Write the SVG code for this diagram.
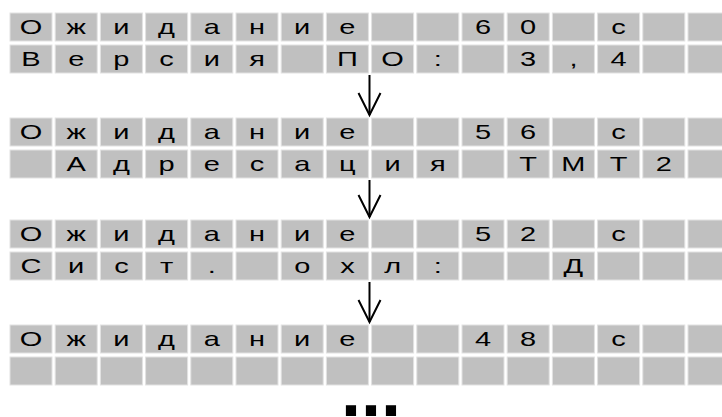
<svg xmlns="http://www.w3.org/2000/svg" xmlns:xlink="http://www.w3.org/1999/xlink" width="722" height="417" viewBox="0 0 722 417">
<style>
.cell{fill:#c0c0c0;stroke:#e2e2e2;stroke-width:1}
.t{font-family:"Liberation Sans",Arial,sans-serif;font-size:21px;fill:#000;text-anchor:middle}
.arr{stroke:#000;stroke-width:2;fill:none}
.dots{font-family:"Liberation Sans",Arial,sans-serif;font-size:72px;font-weight:bold;fill:#000;text-anchor:middle}
</style>
<defs>
<g id="row">
<rect class="cell" x="10" y="0" width="42" height="28"/>
<rect class="cell" x="55.2" y="0" width="42" height="28"/>
<rect class="cell" x="100.4" y="0" width="42" height="28"/>
<rect class="cell" x="145.6" y="0" width="42" height="28"/>
<rect class="cell" x="190.8" y="0" width="42" height="28"/>
<rect class="cell" x="236" y="0" width="42" height="28"/>
<rect class="cell" x="281.2" y="0" width="42" height="28"/>
<rect class="cell" x="326.4" y="0" width="42" height="28"/>
<rect class="cell" x="371.6" y="0" width="42" height="28"/>
<rect class="cell" x="416.8" y="0" width="42" height="28"/>
<rect class="cell" x="462" y="0" width="42" height="28"/>
<rect class="cell" x="507.2" y="0" width="42" height="28"/>
<rect class="cell" x="552.4" y="0" width="42" height="28"/>
<rect class="cell" x="597.6" y="0" width="42" height="28"/>
<rect class="cell" x="642.8" y="0" width="42" height="28"/>
<rect class="cell" x="688" y="0" width="42" height="28"/>
</g>
<marker id="ah" markerUnits="userSpaceOnUse" markerWidth="26" markerHeight="28" viewBox="0 0 26 28" refX="13" refY="25">
<path d="M2,3 L13,25 L24,3" fill="none" stroke="#000" stroke-width="2"/>
</marker>
</defs>

<g id="screen1">
<use xlink:href="#row" y="13"/>
<use xlink:href="#row" y="45"/>
<g transform="scale(1.38,1)">
<text class="t" x="22.46 55.22 87.97 120.72 153.48 186.23 218.99 251.74 350 382.75 448.26" y="34">Ожидание60с</text>
<text class="t" x="22.46 55.22 87.97 120.72 153.48 186.23 251.74 284.49 317.25 382.75 415.51 448.26" y="66">ВерсияПО:3,4</text>
</g>
</g>

<g id="screen2">
<use xlink:href="#row" y="118"/>
<use xlink:href="#row" y="150"/>
<g transform="scale(1.38,1)">
<text class="t" x="22.46 55.22 87.97 120.72 153.48 186.23 218.99 251.74 350 382.75 448.26" y="139">Ожидание56с</text>
<text class="t" x="55.22 87.97 120.72 153.48 186.23 218.99 251.74 284.49 317.25 382.75 415.51 448.26 481.01" y="171">АдресацияТМТ2</text>
</g>
</g>

<g id="screen3">
<use xlink:href="#row" y="220"/>
<use xlink:href="#row" y="252"/>
<g transform="scale(1.38,1)">
<text class="t" x="22.46 55.22 87.97 120.72 153.48 186.23 218.99 251.74 350 382.75 448.26" y="241">Ожидание52с</text>
<text class="t" x="22.46 55.22 87.97 120.72 153.48 218.99 251.74 284.49 317.25 415.51" y="273">Сист.охл:Д</text>
</g>
</g>

<g id="screen4">
<use xlink:href="#row" y="325"/>
<use xlink:href="#row" y="357"/>
<g transform="scale(1.38,1)">
<text class="t" x="22.46 55.22 87.97 120.72 153.48 186.23 218.99 251.74 350 382.75 448.26" y="346">Ожидание48с</text>
</g>
</g>

<g id="connectors">
<line class="arr" x1="369.5" y1="75" x2="369.5" y2="115" marker-end="url(#ah)"/>
<line class="arr" x1="369.5" y1="180" x2="369.5" y2="217" marker-end="url(#ah)"/>
<line class="arr" x1="369.5" y1="282" x2="369.5" y2="322" marker-end="url(#ah)"/>
</g>

<text class="dots" x="371" y="416">...</text>
</svg>
